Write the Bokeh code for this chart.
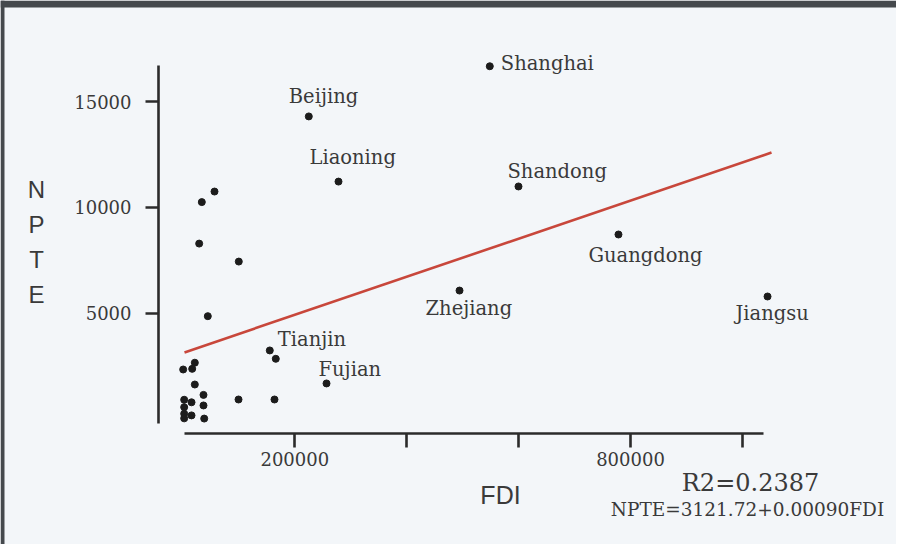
from bokeh.plotting import figure
from bokeh.models import Range1d, FixedTicker, ColumnDataSource, LinearAxis, Label, BoxAnnotation
from bokeh.embed import file_html
from bokeh.resources import INLINE
from bokeh.core.properties import value

# ---------------- data ----------------
provinces = ["Shanghai", "Beijing", "Liaoning", "Shandong", "Guangdong",
             "Zhejiang", "Jiangsu", "Tianjin", "Fujian"]
fdi_named = [548500, 225000, 278100, 599800, 778500, 494400, 1044900, 155300, 256700]
npte_named = [16670, 14300, 11220, 10990, 8720, 6070, 5790, 3240, 1680]

fdi_other = [166000, 163700, 99400, 56500, 33800, 29100, 99900, 44500,
             500, 16600, 21300, 21300, 36800, 2300, 15400, 36800, 2300, 2300,
             15400, 2300, 38100]
npte_other = [2845, 922, 922, 10750, 10250, 8290, 7440, 4860,
              2340, 2370, 2660, 1630, 1140, 910, 790, 640, 560, 250,
              170, 30, 20]

fit_intercept = 3121.72
fit_slope = 0.00900
fit_x = [2860, 1052000]

x_ticks = [200000, 400000, 600000, 800000, 1000000]
x_tick_labels = ["200000", "", "", "800000", ""]
y_ticks = [5000, 10000, 15000]
y_tick_labels = ["5000", "10000", "15000"]

r2_text = "R2=0.2387"
eq_text = "NPTE=3121.72+0.00090FDI"
x_title = "FDI"
y_title = "NPTE"

# ---------------- styling ----------------
BG = "#f3f6f9"
INK = "#2b2b2b"
TXT = "#3a3a3a"
SERIF = "DejaVu Serif"
SANS = "Liberation Sans"

# label offsets (screen px) relative to their point
lab_dx = [11, -20, -29, -11, -30, -34, -32, 8, -8]
lab_dy = [-3, -20, -24, -15, 21, 18, 17, -11, -14]

W, H = 896, 544

p = figure(width=W, height=H, x_range=Range1d(-326000, 1275400),
           y_range=Range1d(-5931, 19778), min_border=0,
           toolbar_location=None, output_backend="svg",
           x_axis_location=None, y_axis_location=None)
p.background_fill_color = BG
p.border_fill_color = BG
p.outline_line_color = None
p.xgrid.visible = False
p.ygrid.visible = False

# scan frame edges
p.add_layout(BoxAnnotation(bottom=19448, fill_color="#45494d", fill_alpha=1, line_color=None))
p.add_layout(BoxAnnotation(right=-318860, fill_color="#45494d", fill_alpha=1, line_color=None))

xaxis = LinearAxis(fixed_location=-671, bounds=(2860, 1037150),
                   ticker=FixedTicker(ticks=x_ticks),
                   major_label_overrides={t: l for t, l in zip(x_ticks, x_tick_labels)})
yaxis = LinearAxis(fixed_location=-43610, bounds=(-212, 16706),
                   ticker=FixedTicker(ticks=y_ticks),
                   major_label_overrides={t: l for t, l in zip(y_ticks, y_tick_labels)})
for ax in (xaxis, yaxis):
    ax.axis_line_color = INK
    ax.axis_line_width = 2.6
    ax.major_tick_line_color = INK
    ax.major_tick_line_width = 2.6
    ax.major_tick_in = 0
    ax.minor_tick_line_color = None
    ax.major_label_text_font = SERIF
    ax.major_label_text_font_size = "18px"
    ax.major_label_text_color = TXT
xaxis.major_tick_out = 14
xaxis.major_label_standoff = 5
yaxis.major_tick_out = 13
yaxis.major_label_standoff = 14
p.add_layout(xaxis, "below")
p.add_layout(yaxis, "left")

# regression line
fit_y = [fit_intercept + fit_slope * x for x in fit_x]
p.line(fit_x, fit_y, line_color="#c8473b", line_width=2.6)

# points
p.scatter(fdi_other, npte_other, size=7, color="#1c1c1c")
p.scatter(fdi_named, npte_named, size=7, color="#1c1c1c")

src = ColumnDataSource(dict(x=fdi_named, y=npte_named, t=provinces,
                            dx=lab_dx, dy=lab_dy))
p.text(x="x", y="y", text="t", x_offset="dx", y_offset="dy", source=src,
       text_font=value(SERIF), text_font_size="19.5px", text_color=TXT,
       text_align="left", text_baseline="alphabetic")

# annotation texts (screen units, origin bottom-left of frame = canvas)
def sy(refy):
    return H - refy

p.add_layout(Label(x=750, y=sy(482), x_units="screen", y_units="screen",
                   text=r2_text, text_font=SERIF, text_font_size="24px",
                   text_color=TXT, text_align="center", text_baseline="alphabetic"))
p.add_layout(Label(x=747, y=sy(509), x_units="screen", y_units="screen",
                   text=eq_text, text_font=SERIF, text_font_size="18.5px",
                   text_color=TXT, text_align="center", text_baseline="alphabetic"))
p.add_layout(Label(x=500, y=sy(494), x_units="screen", y_units="screen",
                   text=x_title, text_font=SANS, text_font_size="25px",
                   text_color=TXT, text_align="center", text_baseline="alphabetic"))
for i, ch in enumerate(y_title):
    p.add_layout(Label(x=36, y=sy(189 + 35 * i), x_units="screen", y_units="screen",
                       text=ch, text_font=SANS, text_font_size="24px",
                       text_color=TXT, text_align="center", text_baseline="alphabetic"))

open("out.html", "w").write(file_html(p, INLINE))
